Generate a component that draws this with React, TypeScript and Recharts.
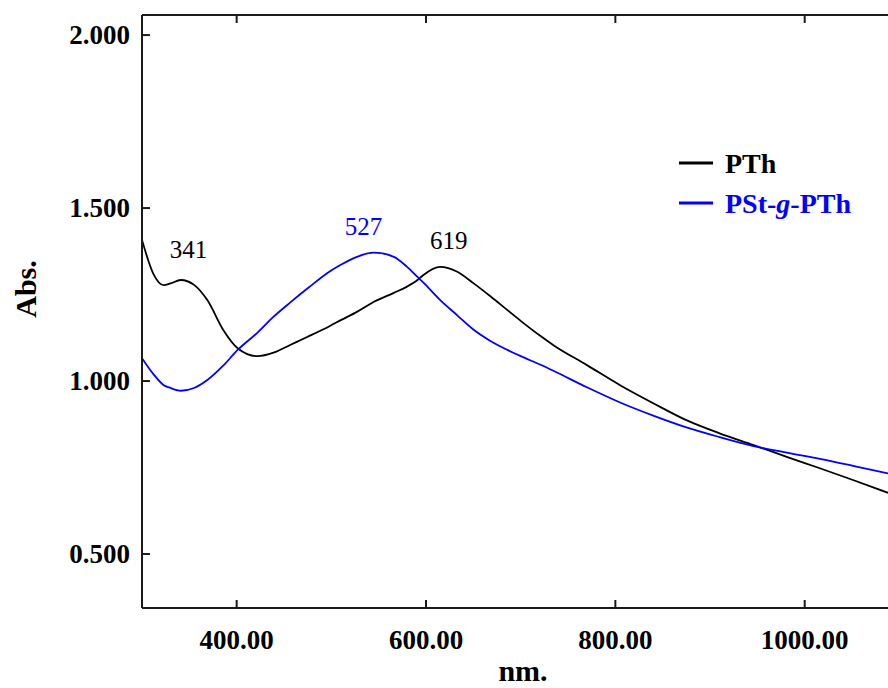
import { LineChart, Line, XAxis, YAxis, ReferenceDot } from "recharts"

// wavelength (nm) and absorbance
const wavelengths = [
  300, 312, 323, 330, 341, 355, 369, 386, 401, 422, 439, 457, 475, 499, 510,
  527, 545, 566, 580, 591, 597, 615, 633, 650, 668, 686, 700, 721, 735, 770,
  805, 840, 875, 910, 946, 981, 1016, 1051, 1088,
]
const pthAbs = [
  1.408, 1.31, 1.277, 1.282, 1.292, 1.278, 1.234, 1.147, 1.095, 1.072, 1.082,
  1.105, 1.128, 1.16, 1.176, 1.2, 1.229, 1.255, 1.273, 1.292, 1.306, 1.33,
  1.316, 1.283, 1.245, 1.205, 1.174, 1.13, 1.103, 1.046, 0.988, 0.936, 0.887,
  0.849, 0.815, 0.781, 0.748, 0.714, 0.677,
]
const pstAbs = [
  1.066, 1.02, 0.988, 0.98, 0.972, 0.98, 1.003, 1.045, 1.09, 1.14, 1.186,
  1.228, 1.268, 1.318, 1.336, 1.359, 1.371, 1.359, 1.33, 1.301, 1.285, 1.234,
  1.19, 1.149, 1.116, 1.09, 1.072, 1.047, 1.029, 0.982, 0.938, 0.9, 0.866,
  0.838, 0.812, 0.793, 0.775, 0.755, 0.733,
]
const xTicks = [400, 600, 800, 1000]
const yTicks = [0.5, 1.0, 1.5, 2.0]
const peaks = [341, 527, 619]

const data = wavelengths.map((nm, i) => ({ nm, pth: pthAbs[i], pst: pstAbs[i] }))

const FONT = "'Liberation Serif', 'Times New Roman', serif"
const AXIS = "#1a1a1a"
const BLUE = "#0000ff"

const tickText = { fontFamily: FONT, fontSize: 27, fontWeight: 700, fill: "#000" }

const BottomTick = ({ x, y, payload }: any) => (
  <g>
    <line x1={x} y1={y} x2={x} y2={y - 8} stroke={AXIS} strokeWidth={2} />
    <text x={x} y={y + 41} textAnchor="middle" style={tickText}>
      {Number(payload.value).toFixed(2)}
    </text>
  </g>
)

const TopTick = ({ x, y }: any) => (
  <line x1={x} y1={y} x2={x} y2={y + 8} stroke={AXIS} strokeWidth={2} />
)

const LeftTick = ({ x, y, payload }: any) => (
  <g>
    <line x1={x} y1={y} x2={x + 8} y2={y} stroke={AXIS} strokeWidth={2} />
    <text x={x - 12} y={y + 9} textAnchor="end" style={tickText}>
      {Number(payload.value).toFixed(3)}
    </text>
  </g>
)

const peakLabel = (text: string, color: string) => (p: any) => (
  <text
    x={p.cx}
    y={p.cy}
    textAnchor="middle"
    dominantBaseline="central"
    style={{ fontFamily: FONT, fontSize: 25, fill: color }}
  >
    {text}
  </text>
)

export default function App() {
  return (
    <div style={{ position: "absolute", left: 0, top: 0, width: 888, height: 688, background: "#fff" }}>
      <LineChart
        width={888}
        height={688}
        data={data}
        margin={{ top: 0, right: 0, bottom: 0, left: 0 }}
      >
        <XAxis
          dataKey="nm"
          type="number"
          domain={[300, 1088]}
          allowDataOverflow
          ticks={xTicks}
          height={80}
          tickSize={0}
          tickMargin={0}
          tickLine={false}
          tick={<BottomTick />}
          axisLine={{ stroke: AXIS, strokeWidth: 2 }}
          label={{
            content: ({ viewBox }: any) => (
              <text
                x={viewBox.x + viewBox.width / 2 + 8}
                y={viewBox.y + 73}
                textAnchor="middle"
                style={{ fontFamily: FONT, fontSize: 30, fontWeight: 700 }}
              >
                nm.
              </text>
            ),
          }}
        />
        <XAxis
          xAxisId="top"
          dataKey="nm"
          orientation="top"
          type="number"
          domain={[300, 1088]}
          allowDataOverflow
          ticks={xTicks}
          height={15}
          tickSize={0}
          tickMargin={0}
          tickLine={false}
          tick={<TopTick />}
          axisLine={{ stroke: AXIS, strokeWidth: 2 }}
        />
        <YAxis
          type="number"
          domain={[0.344, 2.058]}
          allowDataOverflow
          ticks={yTicks}
          width={142}
          tickSize={0}
          tickMargin={0}
          tickLine={false}
          tick={<LeftTick />}
          axisLine={{ stroke: AXIS, strokeWidth: 2 }}
          label={{
            content: ({ viewBox }: any) => {
              const cx = 25
              const cy = viewBox.y + 274
              return (
                <text
                  x={cx}
                  y={cy}
                  transform={`rotate(-90, ${cx}, ${cy})`}
                  textAnchor="middle"
                  dominantBaseline="central"
                  style={{ fontFamily: FONT, fontSize: 30, fontWeight: 700 }}
                >
                  Abs.
                </text>
              )
            },
          }}
        />
        <Line
          type="monotone"
          dataKey="pth"
          stroke="#000"
          strokeWidth={1.8}
          dot={false}
          isAnimationActive={false}
        />
        <Line
          type="monotone"
          dataKey="pst"
          stroke={BLUE}
          strokeWidth={1.8}
          dot={false}
          isAnimationActive={false}
        />
        <ReferenceDot x={349} y={1.381} r={0} shape={peakLabel(String(peaks[0]), "#000")} />
        <ReferenceDot x={534} y={1.448} r={0} shape={peakLabel(String(peaks[1]), BLUE)} />
        <ReferenceDot x={624} y={1.405} r={0} shape={peakLabel(String(peaks[2]), "#000")} />
      </LineChart>

      {/* legend */}
      <svg
        width={200}
        height={80}
        style={{ position: "absolute", left: 676, top: 140 }}
      >
        <line x1={3} y1={23} x2={37} y2={23} stroke="#000" strokeWidth={3} />
        <text x={49} y={33} style={{ fontFamily: FONT, fontSize: 28, fontWeight: 700, fill: "#000" }}>
          PTh
        </text>
        <line x1={3} y1={63} x2={37} y2={63} stroke={BLUE} strokeWidth={3} />
        <text x={49} y={73} style={{ fontFamily: FONT, fontSize: 28, fontWeight: 700, fill: BLUE }}>
          PSt-<tspan fontStyle="italic">g</tspan>-PTh
        </text>
      </svg>
    </div>
  )
}
